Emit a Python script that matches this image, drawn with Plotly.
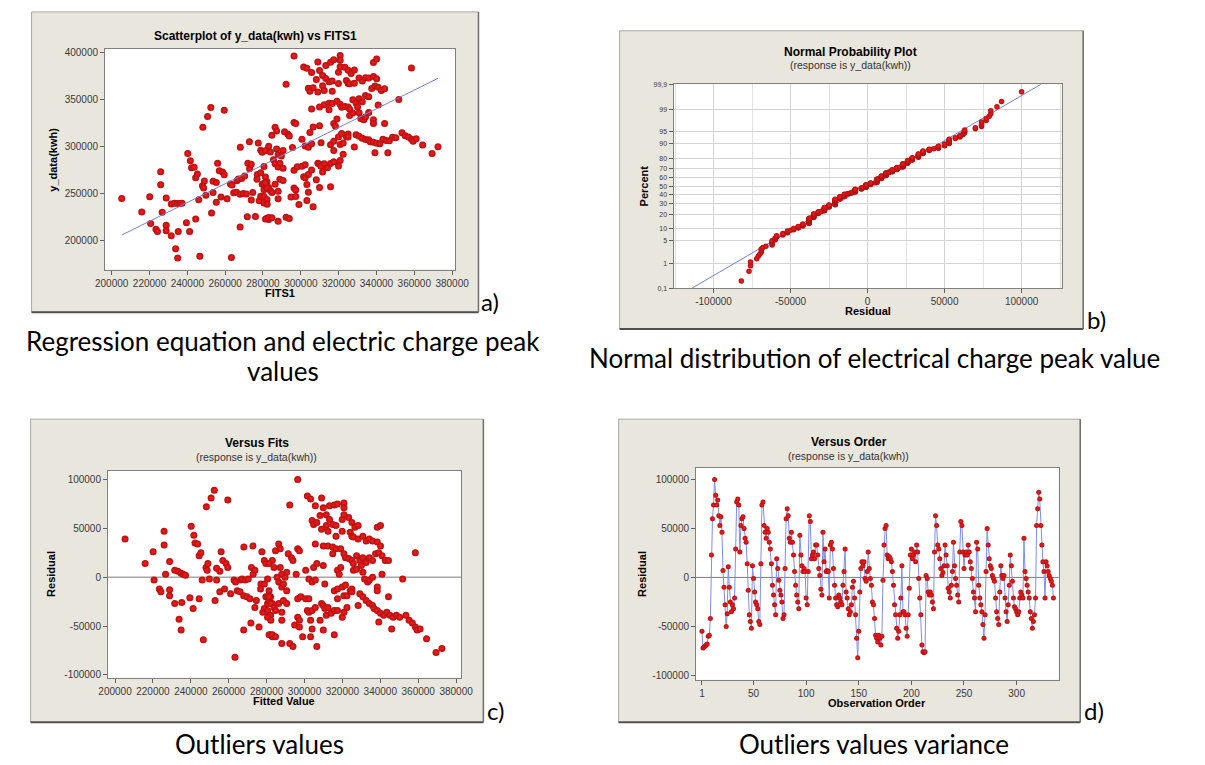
import plotly.graph_objects as go
from statistics import NormalDist, mean, stdev

W, H = 1205, 765

# ---------------- DATA (values in thousands of kWh) ----------------
# Panel c / a : fitted value and residual pairs
fits_k = [
    205.3, 215.9, 220.1, 220.6, 223.4, 224.2, 225.9, 225.9, 226.7, 228.8, 228.8, 228.8,
    231.5, 233.2, 234.9, 236.0, 237.2, 231.5, 235.2, 233.8, 234.9, 239.5, 241.2, 240.2,
    241.6, 242.2, 243.6, 244.4, 245.3, 244.4, 246.6, 248.2, 250.7, 252.4, 248.0, 249.0,
    248.6, 249.8, 246.0, 252.8, 253.6, 255.3, 256.0, 253.6, 255.3, 257.8, 256.9, 258.6,
    259.5, 259.5, 261.0, 262.8, 263.6, 263.3, 266.2, 267.0, 268.7, 270.3, 264.5, 266.0,
    267.9, 269.6, 271.2, 267.9, 268.0, 272.8, 271.7, 272.0, 272.9, 273.8, 274.6, 273.8,
    276.0, 277.5, 277.0, 276.8, 278.8, 279.6, 278.0, 278.8, 279.6, 280.5, 281.3, 282.1,
    278.8, 280.5, 281.3, 282.1, 283.0, 280.5, 282.1, 281.3, 283.0,
    296.4, 292.2, 301.5, 303.2, 305.7, 309.0, 309.9, 313.2, 315.7, 317.4, 320.8, 320.8,
    304.0, 304.8, 306.5, 308.2, 311.5, 313.2, 314.9, 316.6, 309.0, 311.5, 312.4, 319.9,
    320.8, 323.3, 325.0, 326.6, 328.3, 324.1, 325.0, 325.8, 316.6, 319.9, 328.3, 330.8,
    332.5, 334.2, 335.9, 338.4, 340.1, 338.4, 340.1, 305.7, 309.9, 312.4, 314.9, 316.6,
    319.1, 320.8, 321.6, 323.3, 325.0, 325.8, 327.5, 329.2, 330.8, 332.5, 334.2, 335.9,
    337.5, 339.2, 340.9, 342.6, 344.3, 314.9, 286.4, 287.2, 284.7, 291.4, 293.1, 293.9,
    296.4, 297.3, 283.0, 281.3, 283.9, 287.2, 288.0, 289.7, 290.6, 285.5, 286.4, 288.0,
    290.6, 288.9, 295.6, 300.6, 304.8, 306.5, 309.9, 302.3, 304.0, 305.7, 310.7, 317.4,
    318.3, 319.1, 315.7, 317.4, 319.9, 321.6, 324.1, 325.0, 325.8, 327.5, 330.0, 330.8,
    331.7, 333.3, 334.2, 335.9, 338.4, 338.4, 340.9, 351.8, 358.5, 329.2, 330.8, 332.5,
    334.2, 335.9, 336.7, 338.4, 340.1, 341.8, 343.4, 345.1, 346.8, 348.5, 350.2, 344.3,
    339.2, 346.0, 353.5, 355.2, 356.9, 358.5, 359.4, 361.0, 364.4, 369.4, 372.5, 280.5,
    282.2, 283.9, 284.7, 281.3, 286.4, 288.9, 290.6, 288.0, 288.0, 280.5, 282.2, 296.4,
    298.1, 300.6, 302.3, 301.5, 302.3, 304.0, 305.7, 296.4, 297.3, 309.0, 309.9, 310.7,
    312.4, 311.5, 314.1, 315.7, 317.4, 319.9, 320.8, 308.2, 303.2, 294.8, 297.3, 304.0,
    309.9, 283.0, 284.7, 288.0, 292.2, 293.9, 299.0, 303.2, 315.7, 306.5, 317.4, 320.8,
    322.4, 325.0, 328.3, 322.4,
]
resid_fit_k = [
    39, 14, 26, -3, -12, -15, 47, 33, 3, 16, -13, -19,
    7, 6, 4, 3, 2, -27, -26, -43, -54, -21, -32, 52,
    43, 35, 34, 22, 25, -22, -64, 72, 81, 89, 10, 14,
    7, -2, -3, -24, 9, 6, 26, -3, -15, -12, 17, 14,
    10, 79, -17, -3, -5, -82, -3, -2, -3, -2, -14, -15,
    -19, -20, -22, -54, 31, 32, -47, 10, 3, 7, -24, -31,
    -51, 26, -7, -12, 17, 14, -36, -32, -20, -27, -24, -59,
    -7, -2, -14, -20, -27, -34, -39, -59, -61,
    100, 74, 83, 80, 73, 81, 71, 73, 74, 75, 76, 71,
    58, 54, 56, 63, 64, 59, 54, 53, 49, 53, 47, 59,
    64, 61, 56, 51, 53, 46, 42, 41, 42, 47, 39, 42,
    37, 39, 37, 36, 32, 51, 53, 34, 32, 32, 31, 29,
    29, 24, 20, 19, 17, 14, 22, 17, 20, 15, 20, 17,
    24, 25, 22, 17, 17, 24, 34, 29, 27, 24, 20, 17,
    29, 27, 17, 14, 10, 10, 3, 0, 5, 0, -5, -10,
    -14, -7, 3, 7, 10, 14, 12, -2, -5, -3, -7, 7,
    3, 10, -14, -12, -10, -8, -14, -12, 7, 8, 12, 5,
    -2, -5, -3, 0, -10, -14, 3, -2, 25, -17, -20, -24,
    -27, -29, -32, -34, -37, -39, -36, -39, -41, -39, -41, -20,
    -46, -53, -39, -44, -47, -51, -54, -53, -63, -77, -73, -20,
    -27, -31, -34, -20, -27, -24, -27, -36, -44, -41, -44, -22,
    -20, -22, -22, -34, -36, -34, -31, -41, -44, -27, -29, -32,
    -31, -39, -37, -34, -34, -41, -36, -44, -44, -49, -51, -53,
    -54, -59, -61, -68, -68, -71, -61, -61, -59, -71, -22, -19,
    -19, -15, -29, -31,
]

# Panel d : residuals in observation order (b uses the same residuals, sorted)
resid_order_k = [
    -55, -72, -71, -70, -69, -68, -60, -59, -42, 23,
    60, 74, 100, 84, 74, 79, 63, 53, 62, 46,
    7, -10, -28, -50, -37, 11, -10, -25, -35, -28,
    -32, -21, 29, 77, 80, 74, 26, 53, 60, 62,
    50, 40, 36, 14, -13, -38, -45, -52, 12, -1,
    -15, -25, -28, -32, -45, -48, 14, 74, 77, 53,
    46, 40, 50, 46, 36, 29, 14, -8, -18, -28,
    -38, 19, 9, -3, -13, -18, -25, -42, -38, 9,
    60, 70, 63, 40, 36, 46, 36, 23, 6, -8,
    -18, -25, -32, 43, 23, 12, 6, 9, 6, -21,
    -28, 6, 63, 57, 19, 23, 26, 19, 33, 33,
    23, 9, 2, -12, -18, 46, 16, 29, 6, 7, 6,
    -21, 33, 36, 29, 9, -8, -21, -28, -30, -18, -21,
    -25, -28, -8, 6, 29, -15, -21, -32, -38, -35, -28,
    -10, -4, -21, -38, -62, -82, -55, -15, 9, 16,
    12, 16, -1, -4, 6, 26, 9, -1, -8, -25,
    -28, -42, -59, -62, -66, -59, -62, -69, -60, -3, 33,
    50, 53, 23, 19, 21, 19, 16, 6, -8, -28,
    -38, -52, -62, -55, -38, -21, 12, -35, -35, -38,
    -52, -60, -38, -11, 23, 29, 19, 23, 26, 16,
    33, 26, -1, -21, -38, -69, -76, -77, -76, 2,
    -1, -15, -18, -15, -18, -25, -32, 26, 63, 53,
    33, 29, 19, 9, 2, 5, 12, 33, 23, 12, -11,
    -15, -21, -8, 6, 36, 12, -1, -8, -18, -25,
    26, 57, 53, 26, 9, 23, 26, 23, 33, 26,
    16, 9, -1, -15, -21, -35, 36, 29, -8, -21,
    -28, -35, -48, -62, -38, 6, 50, 33, 19, 12,
    9, 2, -1, -4, -21, -35, -42, -48, -15, 12,
    2, -1, 2, -21, -35, -45, -28, -8, 23, 12,
    -4, -21, -30, -32, -35, -38, -35, -21, -15, -18, -21,
    40, 6, -1, -8, -15, -21, -35, -42, -52, -45, -38,
    -21, 53, 70, 87, 80, 53, 33, 16, 6, -21,
    16, 12, 6, 2, -1, -4, -8, -21,
]

# Tick values / labels
fit_ticks = [200000, 220000, 240000, 260000, 280000, 300000, 320000, 340000, 360000, 380000]
ydata_ticks = [200000, 250000, 300000, 350000, 400000]
resid_ticks = [-100000, -50000, 0, 50000, 100000]
order_ticks = [1, 50, 100, 150, 200, 250, 300]
prob_ticks = [0.1, 1, 5, 10, 20, 30, 40, 50, 60, 70, 80, 90, 95, 99, 99.9]
prob_labels = ["0,1", "1", "5", "10", "20", "30", "40", "50", "60", "70", "80", "90", "95", "99", "99,9"]

# ---------------- derived series ----------------
fits = [v * 1000 for v in fits_k]
resid_fit = [v * 1000 for v in resid_fit_k]
ydata = [f + r for f, r in zip(fits, resid_fit)]
resid_order = [v * 1000 for v in resid_order_k]
obs = list(range(1, len(resid_order) + 1))

nd = NormalDist()
srt = sorted(resid_order)
n = len(srt)
zq = [nd.inv_cdf((i - 0.3) / (n + 0.4)) for i in range(1, n + 1)]
mu, sd = mean(resid_order), stdev(resid_order)
zlo, zhi = nd.inv_cdf(0.001), nd.inv_cdf(0.999)
prob_z = [nd.inv_cdf(p / 100) for p in prob_ticks]


def px(x):
    return x / W


def py(y):
    return 1 - y / H


RED = "#ff1a1a"
CENTER = "#b01010"
TICKFONT = dict(family="Liberation Sans", size=10, color="#3a3a3a")


def mk(size):
    return dict(size=size, color=CENTER, gradient=dict(type="radial", color=RED), line=dict(width=0))


fig = go.Figure()

# a) scatter y vs fits
fig.add_trace(go.Scatter(x=fits, y=ydata, mode="markers", xaxis="x", yaxis="y",
                         marker=mk(7), showlegend=False))
fig.add_trace(go.Scatter(x=[min(fits), max(fits)], y=[min(fits), max(fits)], mode="lines",
                         xaxis="x", yaxis="y", line=dict(color="#6f82d8", width=1), showlegend=False))

# b) normal probability plot
fig.add_trace(go.Scatter(x=[mu + sd * zlo, mu + sd * zhi], y=[zlo, zhi], mode="lines",
                         xaxis="x2", yaxis="y2", line=dict(color="#6f82d8", width=1), showlegend=False))
fig.add_trace(go.Scatter(x=srt, y=zq, mode="markers", xaxis="x2", yaxis="y2",
                         marker=mk(5.5), showlegend=False))

# c) residual vs fits
fig.add_trace(go.Scatter(x=fits, y=resid_fit, mode="markers", xaxis="x3", yaxis="y3",
                         marker=mk(7), showlegend=False))

# d) residual vs order
fig.add_trace(go.Scatter(x=obs, y=resid_order, mode="lines+markers", xaxis="x4", yaxis="y4",
                         line=dict(color="#7d8fe6", width=1), marker=mk(5), showlegend=False))


def axis(dom, anchor, rng, **kw):
    d = dict(domain=dom, anchor=anchor, range=rng, showline=True, linecolor="#808080", linewidth=1,
             mirror=True, ticks="outside", ticklen=4, tickcolor="#606060", tickfont=TICKFONT,
             showgrid=False, zeroline=False)
    d.update(kw)
    return d


PLOTS = {
    "a": (97, 45, 454, 268),
    "b": (677, 81, 1073, 287),
    "c": (100, 471, 460, 680),
    "d": (700, 468, 1070, 682),
}


def xdom(k):
    return [px(PLOTS[k][0]), px(PLOTS[k][2])]


def ydom(k):
    return [py(PLOTS[k][3]), py(PLOTS[k][1])]


fig.update_layout(
    width=W, height=H, margin=dict(l=0, r=0, t=0, b=0),
    paper_bgcolor="white", plot_bgcolor="white", showlegend=False,
    xaxis=axis(xdom("a"), "y", [196500, 381500], tickvals=fit_ticks,
               ticktext=[str(v) for v in fit_ticks]),
    yaxis=axis(ydom("a"), "x", [168500, 404200], tickvals=ydata_ticks,
               ticktext=[str(v) for v in ydata_ticks]),
    xaxis2=axis(xdom("b"), "y2", [-126000, 126000], tickvals=resid_ticks,
                ticktext=[str(v) for v in resid_ticks], showgrid=True, gridcolor="#d4d4d4",
                minor=dict(dtick=25000, tick0=0, showgrid=True, gridcolor="#e2e2e2", ticks="")),
    yaxis2=axis(ydom("b"), "x2", [zlo, zhi], tickvals=prob_z, ticktext=prob_labels,
                showgrid=True, gridcolor="#d4d4d4",
                tickfont=dict(family="Liberation Sans", size=7, color="#3a3a3a")),
    xaxis3=axis(xdom("c"), "y3", [196300, 382500], tickvals=fit_ticks,
                ticktext=[str(v) for v in fit_ticks]),
    yaxis3=axis(ydom("c"), "x3", [-103000, 109000], tickvals=resid_ticks,
                ticktext=[str(v) for v in resid_ticks]),
    xaxis4=axis(xdom("d"), "y4", [-4.6, 340], tickvals=order_ticks,
                ticktext=[str(v) for v in order_ticks]),
    yaxis4=axis(ydom("d"), "x4", [-104500, 112000], tickvals=resid_ticks,
                ticktext=[str(v) for v in resid_ticks]),
)

shapes = []
frames = [(22, 8, 478, 311), (622, 27, 1095, 328), (21, 419, 483, 725), (621, 419, 1092, 725)]
for (x0, y0, x1, y1) in frames:
    shapes.append(dict(type="rect", xref="paper", yref="paper", layer="below",
                       x0=px(x0), x1=px(x1), y0=py(y1), y1=py(y0),
                       fillcolor="#e9e6dd", line=dict(color="#a8a8a8", width=1)))
    shapes.append(dict(type="line", xref="paper", yref="paper", layer="below",
                       x0=px(x0), x1=px(x1), y0=py(y1), y1=py(y1), line=dict(color="#505050", width=2)))
    shapes.append(dict(type="line", xref="paper", yref="paper", layer="below",
                       x0=px(x1), x1=px(x1), y0=py(y1), y1=py(y0), line=dict(color="#707070", width=1.5)))
# white plotting areas on top of the beige frames
for k, (x0, y0, x1, y1) in PLOTS.items():
    shapes.append(dict(type="rect", xref="paper", yref="paper", layer="below",
                       x0=px(x0), x1=px(x1), y0=py(y1), y1=py(y0),
                       fillcolor="white", line=dict(width=0)))
# zero reference lines
for xa, ya in (("x3", "y3"), ("x4", "y4")):
    shapes.append(dict(type="line", xref=f"{xa} domain", yref=ya, x0=0, x1=1, y0=0, y1=0,
                       layer="below", line=dict(color="#7a7a7a", width=1)))
fig.update_layout(shapes=shapes)

ann = []


def text(t, x, y, size, bold=False, angle=0, family="Liberation Sans", color="#000000", xanchor="center"):
    ann.append(dict(text=f"<b>{t}</b>" if bold else t, x=px(x), y=py(y), xref="paper", yref="paper",
                    showarrow=False, xanchor=xanchor, yanchor="middle", textangle=angle,
                    font=dict(family=family, size=size, color=color)))


# Panel titles
text("Scatterplot of y_data(kwh) vs FITS1", 250, 32, 12, bold=True)
text("Normal Probability Plot", 858, 48, 12, bold=True)
text("(response is y_data(kwh))", 858, 62, 10.5, color="#333333")
text("Versus Fits", 252, 443, 12, bold=True)
text("(response is y_data(kwh))", 252, 457, 10.5, color="#333333")
text("Versus Order", 856, 442, 12, bold=True)
text("(response is y_data(kwh))", 856, 456, 10.5, color="#333333")

# Axis titles
text("FITS1", 275, 292, 11, bold=True)
text("y_data(kwh)", 43, 157, 11, bold=True, angle=-90)
text("Residual", 875, 310, 11, bold=True)
text("Percent", 647, 184, 11, bold=True, angle=-90)
text("Fitted Value", 280, 703, 11, bold=True)
text("Residual", 42, 575, 11, bold=True, angle=-90)
text("Observation Order", 885, 705, 11, bold=True)
text("Residual", 645, 575, 11, bold=True, angle=-90)

# Panel letters
CAP = "Lato"
text("a)", 479, 300, 24, family=CAP, xanchor="left")
text("b)", 1097, 318, 24, family=CAP, xanchor="left")
text("c)", 485, 713, 24, family=CAP, xanchor="left")
text("d)", 1094, 713, 24, family=CAP, xanchor="left")

# Captions
text("Regression equation and electric charge peak", 279, 340, 26, family=CAP)
text("values", 279, 370, 26, family=CAP)
text("Normal distribution of electrical charge peak value", 882, 357, 26, family=CAP)
text("Outliers values", 255, 747, 26, family=CAP)
text("Outliers values variance", 882, 747, 26, family=CAP)

fig.update_layout(annotations=ann)
fig.write_html("out.html", config={"displayModeBar": False},
               post_script="document.body.style.margin='0px';")
